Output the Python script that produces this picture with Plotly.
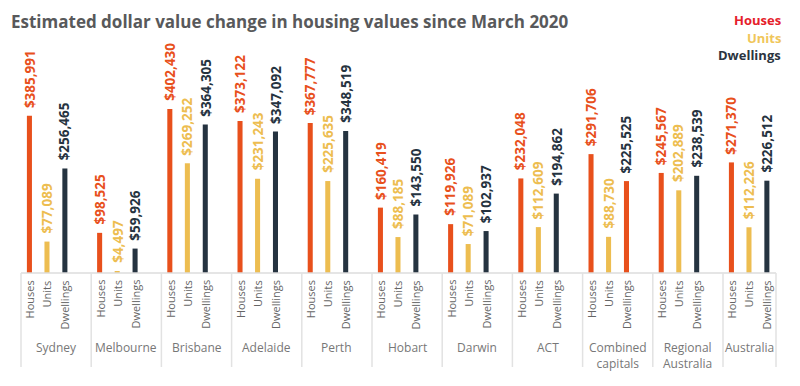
import plotly.graph_objects as go

regions = ["Sydney", "Melbourne", "Brisbane", "Adelaide", "Perth", "Hobart", "Darwin",
           "ACT", "Combined<br>capitals", "Regional<br>Australia", "Australia"]
series_names = ["Houses", "Units", "Dwellings"]
houses = [385991, 98525, 402430, 373122, 367777, 160419, 119926, 232048, 291706, 245567, 271370]
units = [77089, 4497, 269252, 231243, 225635, 88185, 71089, 112609, 88730, 202889, 112226]
dwellings = [256465, 59926, 364305, 347092, 348519, 143550, 102937, 194862, 225525, 238539, 226512]

C_HOUSE = "#E8501C"
C_UNIT = "#EDBD50"
C_DWELL = "#253340"
# the reference draws the Combined capitals dwellings bar in the houses colour
dwell_colors = [C_DWELL] * len(regions)
dwell_colors[8] = C_HOUSE

W, H = 800, 386
left_px, group_px = 21, 70.2
base_px = 273
px_per_dollar = 164 / 402430
dpp = 1 / px_per_dollar
x_range = [-left_px / group_px, (W - left_px) / group_px]
y_range = [-(H - base_px) * dpp, base_px * dpp]

offsets = [0.12, 0.37, 0.625]
bar_w = 0.072
FONT = "Open Sans"

series = [(houses, [C_HOUSE] * len(regions), C_HOUSE),
          (units, [C_UNIT] * len(regions), C_UNIT),
          (dwellings, dwell_colors, C_DWELL)]

fig = go.Figure()
annotations = []
for k, (vals, cols, lab_col) in enumerate(series):
    xs = [i + offsets[k] for i in range(len(regions))]
    fig.add_trace(go.Bar(x=xs, y=vals, width=bar_w, marker=dict(color=cols, line=dict(width=0)),
                         name=series_names[k], showlegend=False, hoverinfo="skip"))
    for i, (x, v) in enumerate(zip(xs, vals)):
        annotations.append(dict(x=x, y=v, xref="x", yref="y", text=f"<b>${v:,}</b>", textangle=-90,
                                showarrow=False, xanchor="center", yanchor="bottom", yshift=7,
                                font=dict(family=FONT, size=13.5, color=cols[i] if k != 2 else lab_col),
                                borderpad=0))
        annotations.append(dict(x=x, y=0, xref="x", yref="y", text=series_names[k], textangle=-90,
                                showarrow=False, xanchor="center", yanchor="top", yshift=-6,
                                font=dict(family=FONT, size=11, color="#666666"), borderpad=0))

for i, r in enumerate(regions):
    annotations.append(dict(x=i + 0.5 if i < len(regions) - 1 else i + 0.38, y=1 - 337 / H,
                            xref="x", yref="paper", text=r, showarrow=False,
                            xanchor="center", yanchor="top",
                            font=dict(family=FONT, size=12, color="#777777")))

annotations.append(dict(x=9 / W, y=1 - 22 / H, xref="paper", yref="paper", xanchor="left", yanchor="middle",
                        text="<b>Estimated dollar value change in housing values since March 2020</b>",
                        showarrow=False, font=dict(family=FONT, size=17, color="#58595B")))
for txt, col, ypx in [("Houses", "#E5202A", 20), ("Units", "#F0C65A", 38), ("Dwellings", "#2B3440", 55)]:
    annotations.append(dict(x=783 / W, y=1 - ypx / H, xref="paper", yref="paper", xanchor="right",
                            yanchor="middle", text=f"<b>{txt}</b>", showarrow=False,
                            font=dict(family=FONT, size=13, color=col)))

shapes = []
end_x = len(regions) - 1 + 0.755
shapes.append(dict(type="line", xref="x", yref="y", x0=0, x1=end_x, y0=0, y1=0,
                   line=dict(color="#DDDDDD", width=1.5)))
bottom_y = -(367 - base_px) * dpp
for xv in list(range(len(regions))) + [end_x]:
    shapes.append(dict(type="line", xref="x", yref="y", x0=xv, x1=xv, y0=0, y1=bottom_y,
                       line=dict(color="#E2E2E2", width=1.5)))

fig.update_layout(width=W, height=H, margin=dict(l=0, r=0, t=0, b=0),
                  paper_bgcolor="white", plot_bgcolor="white", barmode="overlay",
                  xaxis=dict(range=x_range, visible=False, fixedrange=True),
                  yaxis=dict(range=y_range, visible=False, fixedrange=True),
                  annotations=annotations, shapes=shapes, font=dict(family=FONT))
fig.write_html("out.html", config={"displayModeBar": False},
               post_script="document.body.style.margin='0';document.body.style.overflow='hidden';")
